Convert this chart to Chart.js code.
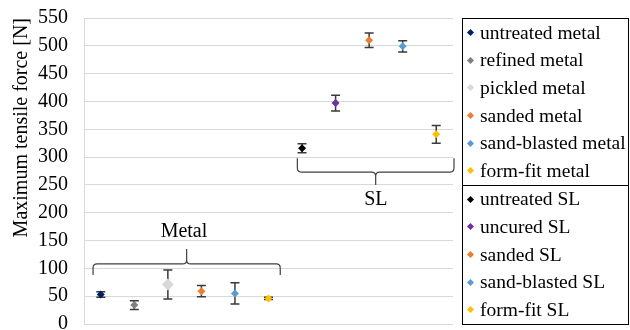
<!DOCTYPE html>
<html>
<head>
<meta charset="utf-8">
<script src="https://cdn.jsdelivr.net/npm/chart.js@4"></script>
<style>
    html, body { margin: 0; padding: 0; background: #fff; overflow: hidden; }
    #wrap { position: relative; width: 630px; height: 345px; }
    #legend {
        position: absolute; left: 462px; top: 18px; width: 167px;
        font-family: 'Liberation Serif', 'Times New Roman', serif; font-size: 19.5px; color: #000;
    }
    .box { border: 1.5px solid #000; box-sizing: border-box; }
    .box + .box { border-top: none; }
    .row { height: 27.6px; display: flex; align-items: center; white-space: nowrap; }
    .mark { width: 5px; height: 5px; transform: rotate(45deg); margin: 0 7px 0 5px; flex: none; }
</style>
</head>
<body>
<div id="wrap">
    <canvas id="forceChart" width="630" height="345"></canvas>
    <div id="legend"></div>
</div>
<script>
const categories = ['untreated metal', 'refined metal', 'pickled metal', 'sanded metal', 'sand-blasted metal', 'form-fit metal',
    'untreated SL', 'uncured SL', 'sanded SL', 'sand-blasted SL', 'form-fit SL'];
const forceMean = [53, 34, 71, 59, 55, 46, 316, 397, 510, 499, 341];
const forceError = [5, 8, 26, 10, 19, 2, 8, 14, 13, 10, 16];
const pointColors = ['#002060', '#7f7f7f', '#d9d9d9', '#ed7d31', '#5b9bd5', '#ffc000',
    '#000000', '#7030a0', '#ed7d31', '#5b9bd5', '#ffc000'];
const legendGroups = [6, 5];   // items per legend box
const groupNames = ['Metal', 'SL'];
const yMin = 0, yMax = 550, yStep = 50;

const serif = "'Liberation Serif', 'Times New Roman', serif";

// error bars, drawn below the markers
const errorBars = {
    id: 'errorBars',
    beforeDatasetsDraw(chart) {
        const ctx = chart.ctx;
        const y = chart.scales.y;
        const meta = chart.getDatasetMeta(0);
        ctx.save();
        ctx.strokeStyle = '#3a3a3a';
        ctx.lineWidth = 1.5;
        meta.data.forEach((pt, i) => {
            const top = y.getPixelForValue(forceMean[i] + forceError[i]);
            const bot = y.getPixelForValue(forceMean[i] - forceError[i]);
            ctx.beginPath();
            ctx.moveTo(pt.x, top); ctx.lineTo(pt.x, bot);
            ctx.moveTo(pt.x - 4.5, top); ctx.lineTo(pt.x + 4.5, top);
            ctx.moveTo(pt.x - 4.5, bot); ctx.lineTo(pt.x + 4.5, bot);
            ctx.stroke();
        });
        ctx.restore();
    }
};

// group braces, placed in axis units (category index / force)
const braceSpecs = [
    {from: -0.23, to: 5.35, ends: 88, bar: 108, tip: 135, label: 165, labelAt: 2.48},
    {from: 5.86, to: 10.53, ends: 298, bar: 273, tip: 250, label: 223, labelAt: 8.2}
];

const braces = {
    id: 'braces',
    afterDatasetsDraw(chart) {
        const ctx = chart.ctx;
        const xs = chart.scales.x, ys = chart.scales.y;
        ctx.save();
        ctx.strokeStyle = '#404040';
        ctx.lineWidth = 1.2;
        braceSpecs.forEach((b, k) => {
            const x1 = xs.getPixelForValue(b.from), x2 = xs.getPixelForValue(b.to);
            const xm = (x1 + x2) / 2;
            const yE = ys.getPixelForValue(b.ends), yB = ys.getPixelForValue(b.bar), yT = ys.getPixelForValue(b.tip);
            const s = Math.sign(yE - yB), r = 4;
            ctx.beginPath();
            [[x1, 1], [x2, -1]].forEach(([xe, d]) => {
                ctx.moveTo(xe, yE);
                ctx.lineTo(xe, yB + s * r);
                ctx.quadraticCurveTo(xe, yB, xe + d * r, yB);
                ctx.lineTo(xm - d * r, yB);
                ctx.quadraticCurveTo(xm, yB, xm, yB - s * r);
                ctx.lineTo(xm, yT);
            });
            ctx.stroke();
            ctx.fillStyle = '#000';
            ctx.font = '20px ' + serif;
            ctx.textAlign = 'center';
            ctx.textBaseline = 'middle';
            ctx.fillText(groupNames[k], xs.getPixelForValue(b.labelAt), ys.getPixelForValue(b.label));
        });
        ctx.restore();
    }
};

new Chart(document.getElementById('forceChart'), {
    type: 'line',
    data: {
        labels: categories,
        datasets: [{
            data: forceMean,
            showLine: false,
            pointStyle: 'rectRot',
            pointBackgroundColor: pointColors,
            pointBorderColor: pointColors,
            pointBorderWidth: 0,
            pointRadius: (c) => c.dataIndex === 2 ? 6 : 4
        }]
    },
    options: {
        responsive: false,
        animation: false,
        layout: { padding: { top: 18, right: 177, bottom: 21, left: 0 } },
        plugins: { legend: { display: false }, tooltip: { enabled: false } },
        scales: {
            x: { display: false, offset: true },
            y: {
                min: yMin,
                max: yMax,
                afterFit(scale) {
                    scale.width = 84;
                    scale.paddingTop = 0;
                    scale.paddingBottom = 0;
                },
                ticks: {
                    stepSize: yStep,
                    padding: 16,
                    color: '#000',
                    font: { family: serif, size: 20 }
                },
                grid: { color: '#d9d9d9', drawTicks: false },
                border: { color: '#d9d9d9' },
                title: {
                    display: true,
                    text: 'Maximum tensile force [N]',
                    align: 'end',
                    color: '#000',
                    padding: { top: 10, bottom: 0 },
                    font: { family: serif, size: 20 }
                }
            }
        }
    },
    plugins: [errorBars, braces]
});

// legend in two framed boxes
const legend = document.getElementById('legend');
let idx = 0;
legendGroups.forEach(n => {
    const box = document.createElement('div');
    box.className = 'box';
    for (let j = 0; j < n; j++, idx++) {
        const row = document.createElement('div');
        row.className = 'row';
        const mark = document.createElement('span');
        mark.className = 'mark';
        mark.style.background = pointColors[idx];
        row.appendChild(mark);
        row.appendChild(document.createTextNode(categories[idx]));
        box.appendChild(row);
    }
    legend.appendChild(box);
});
</script>
</body>
</html>
